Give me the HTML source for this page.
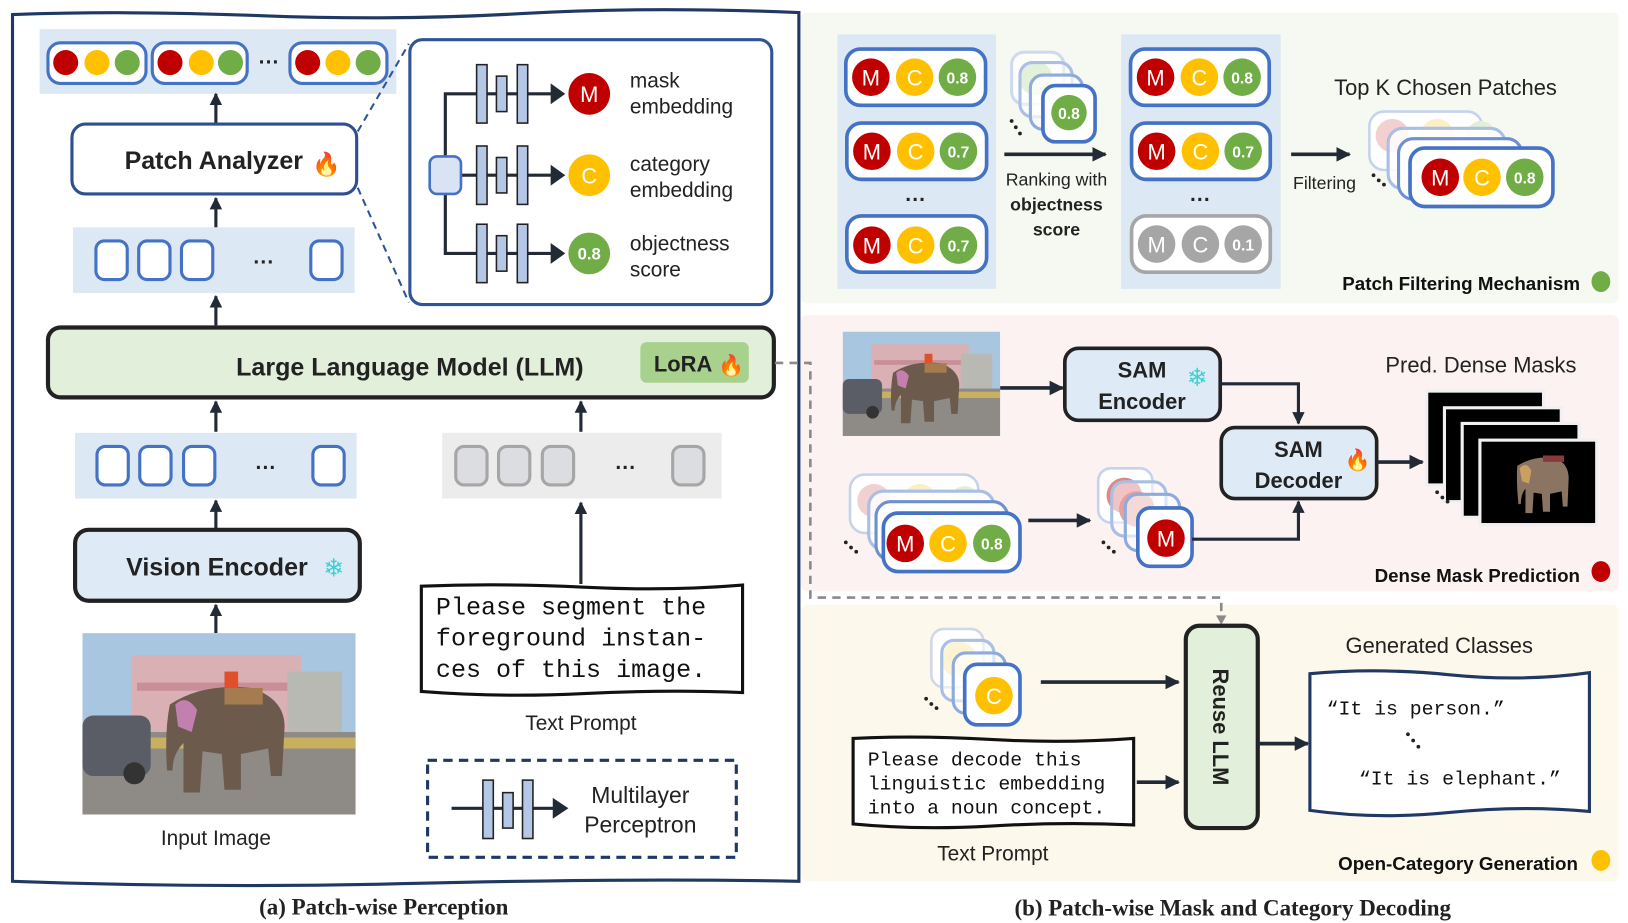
<!DOCTYPE html>
<html><head><meta charset="utf-8"><style>
html,body{margin:0;padding:0;background:#fff;}
svg{display:block;}
.s{font-family:"Liberation Sans",sans-serif;}
.m{font-family:"Liberation Mono",monospace;}
.r{font-family:"Liberation Serif",serif;font-weight:bold;}
</style></head><body>
<svg width="1628" height="923" viewBox="0 0 1561 885" preserveAspectRatio="none" xmlns="http://www.w3.org/2000/svg">
<defs>
<marker id="ah" viewBox="0 0 10 10" refX="9" refY="5" markerWidth="4" markerHeight="4" orient="auto-start-reverse" markerUnits="strokeWidth"><path d="M0,0 L10,5 L0,10 z" fill="#222a35"/></marker>
<marker id="ahs" viewBox="0 0 10 10" refX="9" refY="5" markerWidth="3.5" markerHeight="3.5" orient="auto" markerUnits="strokeWidth"><path d="M0,0 L10,5 L0,10 z" fill="#222"/></marker>
<marker id="ahg" viewBox="0 0 10 10" refX="9" refY="5" markerWidth="5" markerHeight="5" orient="auto" markerUnits="strokeWidth"><path d="M0,0 L10,5 L0,10 z" fill="#888"/></marker>
<symbol id="photo" viewBox="0 0 100 66" preserveAspectRatio="none">
<rect width="100" height="66" fill="#a9c6e0"/>
<rect x="18" y="8" width="62" height="30" fill="#d9b1b4"/>
<rect x="20" y="18" width="60" height="3" fill="#c98f98"/>
<rect x="75" y="14" width="20" height="24" fill="#b9b9b4"/>
<rect x="0" y="36" width="100" height="30" fill="#8e8a86"/>
<rect x="0" y="38" width="100" height="4" fill="#c9b060"/>
<rect x="0" y="30" width="25" height="22" rx="4" fill="#5a5d66"/>
<circle cx="19" cy="51" r="4" fill="#333"/>
<path d="M32,26 Q44,18 62,20 Q74,24 74,34 L73,52 L69,52 L68,42 L58,44 L58,57 L52,57 L51,44 L44,43 L43,58 L37,58 L37,40 Q33,44 33,50 L31,50 Q30,36 32,26z" fill="#6c5a4d"/>
<path d="M34,26 Q38,22 42,28 L40,36 L35,34z" fill="#c27fb0"/>
<rect x="52" y="14" width="5" height="8" fill="#e0502a"/>
<rect x="52" y="20" width="14" height="6" fill="#a57c4f"/>
</symbol>
<symbol id="ephoto" viewBox="0 0 100 66" preserveAspectRatio="none">
<rect width="100" height="66" fill="#000"/>
<path d="M32,20 Q46,12 64,14 Q76,18 76,30 L75,52 L71,52 L70,40 L60,42 L60,56 L54,56 L53,42 L46,41 L45,57 L39,57 L39,38 Q35,42 35,50 L33,50 Q31,32 32,20z" fill="#8b7462"/>
<path d="M34,22 Q40,16 44,24 L42,34 L36,32z" fill="#c9a060"/>
<rect x="54" y="12" width="18" height="5" fill="#8a3a3a"/>
</symbol>
</defs>

<!-- ============ LEFT PANEL ============ -->
<path d="M12,14 Q120,10 250,15 T500,13 T766,12 L766,845 Q600,842 400,847 T12,845 Z" fill="#fff" stroke="#1f3864" stroke-width="3"/>

<!-- top token band -->
<rect x="38" y="28" width="342" height="62" fill="#dde8f5"/>
<g stroke="#4472c4" stroke-width="3" fill="#fff">
<rect x="46" y="41" width="94" height="39" rx="12"/>
<rect x="146" y="41" width="91" height="39" rx="12"/>
<rect x="278" y="41" width="93" height="39" rx="12"/>
</g>
<g>
<circle cx="63" cy="60" r="12" fill="#c00000"/><circle cx="93" cy="60" r="12" fill="#ffc000"/><circle cx="122" cy="60" r="12" fill="#70ad47"/>
<circle cx="163" cy="60" r="12" fill="#c00000"/><circle cx="193" cy="60" r="12" fill="#ffc000"/><circle cx="221" cy="60" r="12" fill="#70ad47"/>
<circle cx="295" cy="60" r="12" fill="#c00000"/><circle cx="324" cy="60" r="12" fill="#ffc000"/><circle cx="353" cy="60" r="12" fill="#70ad47"/>
</g>
<text x="258" y="66" class="s" font-size="20" font-weight="bold" text-anchor="middle" fill="#222">···</text>

<g stroke="#222a35" stroke-width="3" marker-end="url(#ah)">
<line x1="207" y1="118" x2="207" y2="90"/>
<line x1="207" y1="218" x2="207" y2="190"/>
<line x1="207" y1="312" x2="207" y2="284"/>
<line x1="207" y1="414" x2="207" y2="385"/>
<line x1="557" y1="414" x2="557" y2="385"/>
<line x1="207" y1="507" x2="207" y2="480"/>
<line x1="207" y1="607" x2="207" y2="580"/>
<line x1="557" y1="560" x2="557" y2="482"/>
</g>

<!-- Patch Analyzer -->
<rect x="69" y="119" width="273" height="67" rx="13" fill="#fff" stroke="#2f4f8f" stroke-width="3"/>
<text x="205" y="162" class="s" font-size="24" font-weight="bold" text-anchor="middle" fill="#222">Patch Analyzer</text>
<text x="313" y="165" font-size="22" text-anchor="middle">🔥</text>
<line x1="343" y1="126" x2="392" y2="42" stroke="#2f5597" stroke-width="2" stroke-dasharray="7,5"/>
<line x1="343" y1="180" x2="392" y2="290" stroke="#2f5597" stroke-width="2" stroke-dasharray="7,5"/>

<!-- token band 2 -->
<rect x="70" y="218" width="270" height="63" fill="#dde8f5"/>
<g stroke="#4472c4" stroke-width="3" fill="#fff">
<rect x="92" y="231" width="30" height="37" rx="8"/><rect x="133" y="231" width="30" height="37" rx="8"/><rect x="174" y="231" width="30" height="37" rx="8"/><rect x="298" y="231" width="30" height="37" rx="8"/>
</g>
<text x="253" y="258" class="s" font-size="20" font-weight="bold" text-anchor="middle" fill="#222">···</text>

<!-- detail box -->
<rect x="393" y="38" width="347" height="254" rx="12" fill="#fff" stroke="#2f5597" stroke-width="3"/>
<g stroke="#222a35" stroke-width="3" fill="none">
<polyline points="427,150 427,90 530,90"/>
<line x1="442" y1="168" x2="530" y2="168"/>
<polyline points="427,186 427,243 530,243"/>
</g>
<g fill="#222a35"><path d="M528,80 L542,90 L528,100z"/><path d="M528,158 L542,168 L528,178z"/><path d="M528,233 L542,243 L528,253z"/></g>
<rect x="412" y="150" width="30" height="36" rx="7" fill="#dae3f3" stroke="#4472c4" stroke-width="2.5"/>
<g fill="#b4c7e7" stroke="#222" stroke-width="1.5">
<rect x="457" y="62" width="10" height="56"/><rect x="476" y="73" width="10" height="34"/><rect x="496" y="62" width="10" height="56"/>
<rect x="457" y="140" width="10" height="56"/><rect x="476" y="151" width="10" height="34"/><rect x="496" y="140" width="10" height="56"/>
<rect x="457" y="215" width="10" height="56"/><rect x="476" y="226" width="10" height="34"/><rect x="496" y="215" width="10" height="56"/>
</g>
<circle cx="565" cy="90" r="20" fill="#c00000"/><text x="565" y="98" class="s" font-size="21" fill="#fff" text-anchor="middle">M</text>
<circle cx="565" cy="168" r="20" fill="#ffc000"/><text x="565" y="176" class="s" font-size="21" fill="#fff" text-anchor="middle">C</text>
<circle cx="565" cy="243" r="20" fill="#70ad47"/><text x="565" y="249" class="s" font-size="16" font-weight="bold" fill="#fff" text-anchor="middle">0.8</text>
<g class="s" font-size="20" fill="#222">
<text x="604" y="84">mask</text><text x="604" y="109">embedding</text>
<text x="604" y="164">category</text><text x="604" y="189">embedding</text>
<text x="604" y="240">objectness</text><text x="604" y="265">score</text>
</g>

<!-- LLM -->
<rect x="46" y="314" width="696" height="67" rx="12" fill="#e2efda" stroke="#222" stroke-width="4"/>
<text x="393" y="360" class="s" font-size="24" font-weight="bold" text-anchor="middle" fill="#222">Large Language Model (LLM)</text>
<rect x="614" y="328" width="104" height="39" rx="6" fill="#a9d18e"/>
<text x="655" y="356" class="s" font-size="21" font-weight="bold" text-anchor="middle" fill="#222">LoRA</text>
<text x="701" y="357" font-size="20" text-anchor="middle">🔥</text>

<!-- vision tokens -->
<rect x="72" y="415" width="270" height="63" fill="#dde8f5"/>
<g stroke="#4472c4" stroke-width="3" fill="#fff">
<rect x="93" y="428" width="30" height="37" rx="8"/><rect x="134" y="428" width="30" height="37" rx="8"/><rect x="176" y="428" width="30" height="37" rx="8"/><rect x="300" y="428" width="30" height="37" rx="8"/>
</g>
<text x="255" y="455" class="s" font-size="20" font-weight="bold" text-anchor="middle" fill="#222">···</text>
<rect x="424" y="415" width="268" height="63" fill="#ececec"/>
<g stroke="#a6a6a6" stroke-width="3" fill="#dcdde1">
<rect x="437" y="428" width="30" height="37" rx="8"/><rect x="478" y="428" width="30" height="37" rx="8"/><rect x="520" y="428" width="30" height="37" rx="8"/><rect x="645" y="428" width="30" height="37" rx="8"/>
</g>
<text x="600" y="455" class="s" font-size="20" font-weight="bold" text-anchor="middle" fill="#222">···</text>

<!-- Vision Encoder -->
<rect x="72" y="508" width="273" height="68" rx="13" fill="#deebf7" stroke="#222" stroke-width="4"/>
<text x="208" y="552" class="s" font-size="24" font-weight="bold" text-anchor="middle" fill="#222">Vision Encoder</text>
<text x="320" y="553" font-size="24" text-anchor="middle" fill="#40d0d0">❄</text>

<use href="#photo" x="79" y="607" width="262" height="174"/>
<text x="207" y="810" class="s" font-size="20" text-anchor="middle" fill="#222">Input Image</text>

<!-- text prompt box -->
<path d="M404,562 Q480,559 560,563 T712,561 L712,664 Q640,661 560,665 T404,663 Z" fill="#fff" stroke="#111" stroke-width="3"/>
<g class="m" font-size="24" fill="#111">
<text x="418" y="589">Please segment the</text>
<text x="418" y="619">foreground instan-</text>
<text x="418" y="649">ces of this image.</text>
</g>
<text x="557" y="700" class="s" font-size="20" text-anchor="middle" fill="#222">Text Prompt</text>

<!-- MLP legend -->
<rect x="410" y="729" width="296" height="93" fill="none" stroke="#1f3864" stroke-width="3" stroke-dasharray="9,6"/>
<line x1="433" y1="775" x2="532" y2="775" stroke="#222a35" stroke-width="3"/>
<path d="M530,765 L545,775 L530,785z" fill="#222a35"/>
<g fill="#b4c7e7" stroke="#222" stroke-width="1.5">
<rect x="463" y="748" width="10" height="56"/><rect x="482" y="760" width="10" height="34"/><rect x="501" y="748" width="10" height="56"/>
</g>
<text x="614" y="770" class="s" font-size="22" text-anchor="middle" fill="#222">Multilayer</text>
<text x="614" y="798" class="s" font-size="22" text-anchor="middle" fill="#222">Perceptron</text>
<text x="368" y="877" class="r" font-size="22" text-anchor="middle" fill="#222">(a) Patch-wise Perception</text>

<!-- ============ RIGHT: GREEN PANEL ============ -->
<rect x="768" y="12" width="784" height="279" rx="6" fill="#f5f9f1"/>
<rect x="803" y="33" width="152" height="244" fill="#dde8f5"/>
<rect x="1075" y="33" width="153" height="244" fill="#dde8f5"/>
<g stroke="#4472c4" stroke-width="3.5" fill="#fff">
<rect x="811" y="47" width="134" height="54" rx="14"/><rect x="812" y="118" width="134" height="54" rx="14"/><rect x="812" y="207" width="134" height="54" rx="14"/>
<rect x="1084" y="47" width="133" height="54" rx="14"/><rect x="1085" y="118" width="133" height="54" rx="14"/>
</g>
<rect x="1085" y="207" width="133" height="54" rx="14" fill="#fff" stroke="#a6a6a6" stroke-width="3.5"/>
<g class="s" text-anchor="middle">
<circle cx="835" cy="74" r="18" fill="#c00000"/><text x="835" y="82" font-size="21" fill="#fff">M</text>
<circle cx="877" cy="74" r="18" fill="#ffc000"/><text x="877" y="82" font-size="21" fill="#fff">C</text>
<circle cx="918" cy="74" r="18" fill="#70ad47"/><text x="918" y="80" font-size="15" font-weight="bold" fill="#fff">0.8</text>
<circle cx="836" cy="145" r="18" fill="#c00000"/><text x="836" y="153" font-size="21" fill="#fff">M</text>
<circle cx="878" cy="145" r="18" fill="#ffc000"/><text x="878" y="153" font-size="21" fill="#fff">C</text>
<circle cx="919" cy="145" r="18" fill="#70ad47"/><text x="919" y="151" font-size="15" font-weight="bold" fill="#fff">0.7</text>
<circle cx="836" cy="235" r="18" fill="#c00000"/><text x="836" y="243" font-size="21" fill="#fff">M</text>
<circle cx="878" cy="235" r="18" fill="#ffc000"/><text x="878" y="243" font-size="21" fill="#fff">C</text>
<circle cx="919" cy="235" r="18" fill="#70ad47"/><text x="919" y="241" font-size="15" font-weight="bold" fill="#fff">0.7</text>
<circle cx="1108" cy="74" r="18" fill="#c00000"/><text x="1108" y="82" font-size="21" fill="#fff">M</text>
<circle cx="1150" cy="74" r="18" fill="#ffc000"/><text x="1150" y="82" font-size="21" fill="#fff">C</text>
<circle cx="1191" cy="74" r="18" fill="#70ad47"/><text x="1191" y="80" font-size="15" font-weight="bold" fill="#fff">0.8</text>
<circle cx="1109" cy="145" r="18" fill="#c00000"/><text x="1109" y="153" font-size="21" fill="#fff">M</text>
<circle cx="1151" cy="145" r="18" fill="#ffc000"/><text x="1151" y="153" font-size="21" fill="#fff">C</text>
<circle cx="1192" cy="145" r="18" fill="#70ad47"/><text x="1192" y="151" font-size="15" font-weight="bold" fill="#fff">0.7</text>
<circle cx="1109" cy="234" r="18" fill="#a6a6a6"/><text x="1109" y="242" font-size="21" fill="#fff">M</text>
<circle cx="1151" cy="234" r="18" fill="#a6a6a6"/><text x="1151" y="242" font-size="21" fill="#fff">C</text>
<circle cx="1192" cy="234" r="18" fill="#a6a6a6"/><text x="1192" y="240" font-size="15" font-weight="bold" fill="#fff">0.1</text>
<text x="878" y="198" font-size="20" font-weight="bold" fill="#222">···</text>
<text x="1151" y="198" font-size="20" font-weight="bold" fill="#222">···</text>
</g>
<!-- ranking stack -->
<rect x="970" y="50" width="50" height="50" rx="12" fill="#fff" stroke="#c5d4ec" stroke-width="3" opacity="0.8"/>
<circle cx="993" cy="75" r="16" fill="#c6e0b4"/>
<rect x="978" y="60" width="50" height="52" rx="12" fill="#fff" fill-opacity="0.5" stroke="#a9bfe4" stroke-width="3"/>
<rect x="988" y="72" width="50" height="52" rx="12" fill="#fff" fill-opacity="0.7" stroke="#8faadc" stroke-width="3"/>
<rect x="1000" y="82" width="50" height="54" rx="12" fill="#fff" stroke="#4472c4" stroke-width="3.5"/>
<circle cx="1025" cy="108" r="17" fill="#70ad47"/><text x="1025" y="114" class="s" font-size="15" font-weight="bold" fill="#fff" text-anchor="middle">0.8</text>
<g fill="#222"><circle cx="970" cy="116" r="1.8"/><circle cx="974" cy="122" r="1.8"/><circle cx="978" cy="128" r="1.8"/></g>
<line x1="963" y1="148" x2="1060" y2="148" stroke="#222a35" stroke-width="3.5" marker-end="url(#ah)"/>
<text x="1013" y="178" class="s" font-size="17" text-anchor="middle" fill="#222">Ranking with</text>
<text x="1013" y="202" class="s" font-size="17" font-weight="bold" text-anchor="middle" fill="#222">objectness</text>
<text x="1013" y="226" class="s" font-size="17" font-weight="bold" text-anchor="middle" fill="#222">score</text>
<line x1="1238" y1="148" x2="1294" y2="148" stroke="#222a35" stroke-width="3.5" marker-end="url(#ah)"/>
<text x="1270" y="181" class="s" font-size="17" text-anchor="middle" fill="#222">Filtering</text>
<text x="1386" y="91" class="s" font-size="21" text-anchor="middle" fill="#222">Top K Chosen Patches</text>
<!-- top K stack -->
<rect x="1313" y="107" width="108" height="56" rx="14" fill="#fff" stroke="#c5d4ec" stroke-width="2.5"/>
<circle cx="1335" cy="130" r="16" fill="#f2d0d0"/><circle cx="1378" cy="130" r="16" fill="#fcefc7"/><circle cx="1420" cy="130" r="14" fill="#e2efda"/>
<rect x="1331" y="123" width="112" height="58" rx="14" fill="#fff" fill-opacity="0.85" stroke="#a9bfe4" stroke-width="3"/>
<rect x="1341" y="133" width="118" height="58" rx="14" fill="#fff" stroke="#6f8fd0" stroke-width="3"/>
<circle cx="1370" cy="163" r="16" fill="#c00000"/>
<rect x="1352" y="142" width="137" height="56" rx="14" fill="#fff" stroke="#4472c4" stroke-width="3.5"/>
<circle cx="1381" cy="170" r="18" fill="#c00000"/><text x="1381" y="178" class="s" font-size="21" fill="#fff" text-anchor="middle">M</text>
<circle cx="1421" cy="170" r="18" fill="#ffc000"/><text x="1421" y="178" class="s" font-size="21" fill="#fff" text-anchor="middle">C</text>
<circle cx="1462" cy="170" r="18" fill="#70ad47"/><text x="1462" y="176" class="s" font-size="15" font-weight="bold" fill="#fff" text-anchor="middle">0.8</text>
<g fill="#222"><circle cx="1317" cy="168" r="1.8"/><circle cx="1322" cy="173" r="1.8"/><circle cx="1327" cy="177" r="1.8"/></g>
<text x="1515" y="278" class="s" font-size="18" font-weight="bold" text-anchor="end" fill="#111">Patch Filtering Mechanism</text>
<ellipse cx="1535" cy="270" rx="9" ry="10" fill="#70ad47"/>

<!-- ============ RED PANEL ============ -->
<rect x="768" y="302" width="784" height="265" rx="6" fill="#fdf2f2"/>
<use href="#photo" x="808" y="318" width="151" height="100"/>
<line x1="959" y1="372" x2="1019" y2="372" stroke="#222a35" stroke-width="3.5" marker-end="url(#ah)"/>
<rect x="1021" y="334" width="149" height="69" rx="13" fill="#deebf7" stroke="#222" stroke-width="3.5"/>
<text x="1095" y="362" class="s" font-size="21" font-weight="bold" text-anchor="middle" fill="#222">SAM</text>
<text x="1095" y="392" class="s" font-size="21" font-weight="bold" text-anchor="middle" fill="#222">Encoder</text>
<text x="1148" y="370" font-size="24" text-anchor="middle" fill="#40d0d0">❄</text>
<polyline points="1170,368 1245,368 1245,406" fill="none" stroke="#222a35" stroke-width="3" marker-end="url(#ah)"/>
<rect x="1171" y="410" width="149" height="68" rx="13" fill="#deebf7" stroke="#222" stroke-width="3.5"/>
<text x="1245" y="438" class="s" font-size="21" font-weight="bold" text-anchor="middle" fill="#222">SAM</text>
<text x="1245" y="468" class="s" font-size="21" font-weight="bold" text-anchor="middle" fill="#222">Decoder</text>
<text x="1302" y="448" font-size="20" text-anchor="middle">🔥</text>
<line x1="1320" y1="443" x2="1364" y2="443" stroke="#222a35" stroke-width="3.5" marker-end="url(#ah)"/>
<text x="1420" y="357" class="s" font-size="21" text-anchor="middle" fill="#222">Pred. Dense Masks</text>
<g stroke="#f0f0f0" stroke-width="3">
<rect x="1368" y="375" width="112" height="90" fill="#000"/>
<rect x="1385" y="391" width="112" height="90" fill="#000"/>
<rect x="1402" y="406" width="112" height="90" fill="#000"/>
</g>
<use href="#ephoto" x="1419" y="422" width="112" height="81"/>
<rect x="1419" y="422" width="112" height="81" fill="none" stroke="#f0f0f0" stroke-width="3"/>
<g fill="#222"><circle cx="1378" cy="472" r="1.8"/><circle cx="1383" cy="477" r="1.8"/><circle cx="1388" cy="481" r="1.8"/></g>
<!-- patch stack -->
<rect x="815" y="455" width="123" height="56" rx="14" fill="#fff" stroke="#c5d4ec" stroke-width="2.5"/>
<circle cx="838" cy="480" r="16" fill="#f2d0d0"/><circle cx="882" cy="480" r="16" fill="#fcefc7"/><circle cx="925" cy="480" r="14" fill="#e2efda"/>
<rect x="833" y="471" width="120" height="56" rx="14" fill="#fff" fill-opacity="0.85" stroke="#a9bfe4" stroke-width="3"/>
<rect x="840" y="481" width="126" height="56" rx="14" fill="#fff" stroke="#6f8fd0" stroke-width="3"/>
<circle cx="862" cy="510" r="16" fill="#c00000"/>
<rect x="847" y="492" width="131" height="56" rx="14" fill="#fff" stroke="#4472c4" stroke-width="3.5"/>
<circle cx="868" cy="521" r="18" fill="#c00000"/><text x="868" y="529" class="s" font-size="21" fill="#fff" text-anchor="middle">M</text>
<circle cx="909" cy="521" r="18" fill="#ffc000"/><text x="909" y="529" class="s" font-size="21" fill="#fff" text-anchor="middle">C</text>
<circle cx="951" cy="521" r="18" fill="#70ad47"/><text x="951" y="527" class="s" font-size="15" font-weight="bold" fill="#fff" text-anchor="middle">0.8</text>
<g fill="#222"><circle cx="811" cy="520" r="1.8"/><circle cx="816" cy="525" r="1.8"/><circle cx="821" cy="529" r="1.8"/></g>
<line x1="986" y1="499" x2="1045" y2="499" stroke="#222a35" stroke-width="3.5" marker-end="url(#ah)"/>
<!-- M stack -->
<rect x="1053" y="449" width="52" height="52" rx="12" fill="#fff" stroke="#c5d4ec" stroke-width="2.5"/>
<circle cx="1078" cy="475" r="17" fill="#e08888"/>
<rect x="1066" y="462" width="52" height="52" rx="12" fill="#fff" fill-opacity="0.5" stroke="#a9bfe4" stroke-width="3"/>
<circle cx="1090" cy="488" r="17" fill="#e4a0a0"/>
<rect x="1079" y="474" width="52" height="54" rx="12" fill="#fff" fill-opacity="0.6" stroke="#8faadc" stroke-width="3"/>
<rect x="1091" y="487" width="52" height="56" rx="12" fill="#fff" stroke="#4472c4" stroke-width="3.5"/>
<circle cx="1118" cy="516" r="18" fill="#c00000"/><text x="1118" y="524" class="s" font-size="21" fill="#fff" text-anchor="middle">M</text>
<g fill="#222"><circle cx="1058" cy="520" r="1.8"/><circle cx="1063" cy="525" r="1.8"/><circle cx="1068" cy="529" r="1.8"/></g>
<polyline points="1143,517 1245,517 1245,481" fill="none" stroke="#222a35" stroke-width="3" marker-end="url(#ah)"/>
<text x="1515" y="558" class="s" font-size="18" font-weight="bold" text-anchor="end" fill="#111">Dense Mask Prediction</text>
<ellipse cx="1535" cy="548" rx="9" ry="10" fill="#c00000"/>

<!-- ============ YELLOW PANEL ============ -->
<rect x="768" y="580" width="784" height="265" rx="6" fill="#fdf8ec"/>
<!-- dashed gray connector -->
<polyline points="743,348 777,348 777,573 1171,573 1171,596" fill="none" stroke="#8a8a8a" stroke-width="2.5" stroke-dasharray="8,6"/>
<path d="M1166,590 L1171,599 L1176,590z" fill="#8a8a8a"/>
<!-- C stack -->
<rect x="893" y="603" width="50" height="56" rx="12" fill="#fff" stroke="#d0d8e8" stroke-width="2.5"/>
<circle cx="919" cy="632" r="17" fill="#fce8a8"/>
<rect x="903" y="614" width="50" height="58" rx="12" fill="#fff" fill-opacity="0.5" stroke="#a9bfe4" stroke-width="3"/>
<rect x="914" y="626" width="50" height="58" rx="12" fill="#fff" fill-opacity="0.6" stroke="#8faadc" stroke-width="3"/>
<rect x="925" y="637" width="53" height="58" rx="12" fill="#fff" stroke="#4472c4" stroke-width="3.5"/>
<circle cx="953" cy="667" r="18" fill="#ffc000"/><text x="953" y="675" class="s" font-size="21" fill="#fff" text-anchor="middle">C</text>
<g fill="#222"><circle cx="888" cy="670" r="1.8"/><circle cx="893" cy="675" r="1.8"/><circle cx="898" cy="679" r="1.8"/></g>
<line x1="998" y1="654" x2="1130" y2="654" stroke="#222a35" stroke-width="3.5" marker-end="url(#ah)"/>
<path d="M818,708 Q880,705 950,709 T1087,708 L1087,791 Q1020,788 950,792 T818,790 Z" fill="#fff" stroke="#111" stroke-width="3"/>
<g class="m" font-size="19" fill="#111">
<text x="832" y="734">Please decode this</text>
<text x="832" y="757">linguistic embedding</text>
<text x="832" y="780">into a noun concept.</text>
</g>
<line x1="1090" y1="750" x2="1130" y2="750" stroke="#222a35" stroke-width="3.5" marker-end="url(#ah)"/>
<rect x="1137" y="600" width="69" height="194" rx="13" fill="#e2efda" stroke="#222" stroke-width="4"/>
<text transform="translate(1163,697) rotate(90)" class="s" font-size="21" font-weight="bold" text-anchor="middle" fill="#222">Reuse LLM</text>
<line x1="1206" y1="713" x2="1254" y2="713" stroke="#222a35" stroke-width="3.5" marker-end="url(#ah)"/>
<text x="1380" y="626" class="s" font-size="21" text-anchor="middle" fill="#222">Generated Classes</text>
<path d="M1256,646 Q1320,640 1390,647 T1524,645 L1524,778 Q1460,772 1390,779 T1256,777 Z" fill="#fff" stroke="#1f3864" stroke-width="3"/>
<text x="1272" y="685" class="m" font-size="19" fill="#111">“It is person.”</text>
<g fill="#222"><circle cx="1350" cy="704" r="1.8"/><circle cx="1355" cy="710" r="1.8"/><circle cx="1360" cy="716" r="1.8"/></g>
<text x="1303" y="752" class="m" font-size="19" fill="#111">“It is elephant.”</text>
<text x="952" y="825" class="s" font-size="20" text-anchor="middle" fill="#222">Text Prompt</text>
<text x="1513" y="834" class="s" font-size="18" font-weight="bold" text-anchor="end" fill="#111">Open-Category Generation</text>
<ellipse cx="1535" cy="825" rx="9" ry="10" fill="#ffc000"/>

<text x="1182" y="878" class="r" font-size="22" text-anchor="middle" fill="#222">(b) Patch-wise Mask and Category Decoding</text>
</svg>
</body></html>
